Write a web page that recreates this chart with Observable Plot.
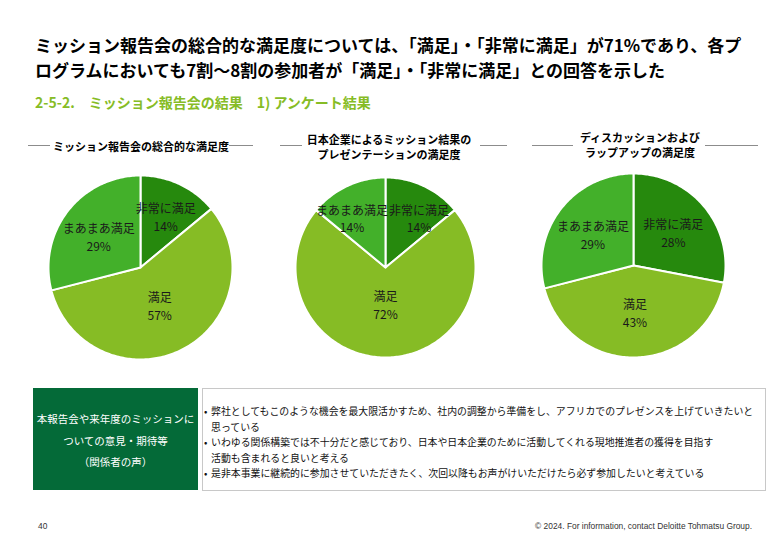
<!DOCTYPE html>
<html><head><meta charset="utf-8">
<script src="https://cdn.jsdelivr.net/npm/d3@7"></script>
<script src="https://cdn.jsdelivr.net/npm/@observablehq/plot@0.6"></script>
<style>
body{margin:0;width:780px;height:540px;position:relative;background:#fff;font-family:"Noto Sans CJK JP","Noto Sans",sans-serif;overflow:hidden;color:#000}
.abs{position:absolute;white-space:nowrap}
.title{left:35px;top:32px;font-size:17px;font-weight:700;line-height:25px}
.sub{left:35px;top:93px;font-size:14px;font-weight:600;line-height:19px;color:#86BC25}
.ctitle{font-size:11px;font-weight:600;line-height:15px;text-align:center;transform:translateX(-50%)}
.rule{height:1.5px;background:#8c8c8c}
.gbox{left:33px;top:388px;width:165px;height:102px;background:#046A38;color:#fff;font-size:10.5px;line-height:21.5px;text-align:center}
.wbox{left:202px;top:388px;width:562px;height:101px;border:1px solid #c8c8c8;background:#fff}
.items{left:211px;top:404px;font-size:9.9px;line-height:15.5px;color:#111}
.items .it{position:relative}
.items .it span.b{position:absolute;left:-7px}
.foot{font-family:"Liberation Sans",sans-serif;font-size:8.4px;color:#333;top:521px}
</style></head><body>
<script>
// ---- data ----
const categories = ["非常に満足", "満足", "まあまあ満足"];
const colors = ["#26890D", "#86BC25", "#43B02A"];
const chartTitles = [
  ["ミッション報告会の総合的な満足度"],
  ["日本企業によるミッション結果の", "プレゼンテーションの満足度"],
  ["ディスカッションおよび", "ラップアップの満足度"]
];
const values1 = [14, 57, 29];
const values2 = [14, 72, 14];
const values3 = [28, 43, 29];
const titleLines = ["ミッション報告会の総合的な満足度については、「満足」・「非常に満足」が71%であり、各プ", "ログラムにおいても7割～8割の参加者が「満足」・「非常に満足」との回答を示した"];
const subtitle = "2-5-2.　ミッション報告会の結果　1) アンケート結果";
const boxHeader = ["本報告会や来年度のミッションに", "ついての意見・期待等", "（関係者の声）"];
const comments = [
  ["弊社としてもこのような機会を最大限活かすため、社内の調整から準備をし、アフリカでのプレゼンスを上げていきたいと", "思っている"],
  ["いわゆる関係構築では不十分だと感じており、日本や日本企業のために活動してくれる現地推進者の獲得を目指す", "活動も含まれると良いと考える"],
  ["是非本事業に継続的に参加させていただきたく、次回以降もお声がけいただけたら必ず参加したいと考えている"]
];
const pageNo = "40";
const copyright = "© 2024. For information, contact Deloitte Tohmatsu Group.";

// ---- layout (positions only) ----
const layout = [
  {cx: 140, cy: 267, r: 92, tx: 141, ty: 139, rules: [[28, 50], [229, 253]]},
  {cx: 385, cy: 267, r: 90, tx: 389, ty: 132, rules: [[280, 302], [480, 507]]},
  {cx: 633, cy: 265, r: 92, tx: 640, ty: 130, rules: [[532, 573], [705, 758]]}
];
const seriesList = [values1, values2, values3];
const labelFont = 12;

function el(cls, html, style) {
  const d = document.createElement("div");
  d.className = "abs " + cls;
  d.innerHTML = html;
  Object.assign(d.style, style || {});
  document.body.appendChild(d);
  return d;
}

el("title", titleLines.join("<br>"));
el("sub", subtitle);

function pieChart(values, r) {
  const total = d3.sum(values);
  const arcs = d3.pie().sort(null).value(d => d)(values);
  const pts = [];
  arcs.forEach((a, i) => {
    const n = Math.max(2, Math.ceil((a.endAngle - a.startAngle) / (Math.PI / 180)));
    pts.push({k: i, cat: categories[i], x: 0, y: 0});
    for (let j = 0; j <= n; j++) {
      const t = a.startAngle + (a.endAngle - a.startAngle) * j / n;
      pts.push({k: i, cat: categories[i], x: Math.sin(t), y: Math.cos(t)});
    }
  });
  // label placement: small slices further out, big slices nearer the centre
  const labels = arcs.map((a, i) => {
    const m = (a.startAngle + a.endAngle) / 2;
    const f = 0.66 - 0.35 * values[i] / total;
    return {x: f * Math.sin(m), y: f * Math.cos(m), w: categories[i].length * labelFont / r, text: `${categories[i]}\n${values[i]}%`};
  });
  // resolve horizontal overlaps between labels on the same row
  for (let it = 0; it < 20; it++) {
    for (let a = 0; a < labels.length; a++) for (let b = a + 1; b < labels.length; b++) {
      const A = labels[a], B = labels[b];
      if (Math.abs(A.y - B.y) * r > labelFont * 2.6) continue;
      const need = (A.w + B.w) / 2 + 1 / r;
      const dx = B.x - A.x;
      if (Math.abs(dx) < need) {
        const push = (need - Math.abs(dx)) / 2 * (dx >= 0 ? 1 : -1);
        A.x -= push; B.x += push;
      }
    }
  }
  const size = 2 * r + 4;
  return Plot.plot({
    width: size, height: size, margin: 0, inset: 2,
    x: {domain: [-1, 1], axis: null},
    y: {domain: [-1, 1], axis: null},
    color: {domain: categories, range: colors},
    style: {fontFamily: '"Noto Sans CJK JP", sans-serif', overflow: "visible", background: "transparent"},
    marks: [
      Plot.line(pts, {x: "x", y: "y", z: "k", fill: "cat", stroke: "white", strokeWidth: 2, strokeLinejoin: "round", curve: "linear-closed"}),
      Plot.text(labels, {x: "x", y: "y", text: "text", fontSize: labelFont, lineHeight: 1.5, fill: "#1a1a1a"})
    ]
  });
}

layout.forEach((L, i) => {
  el("ctitle", chartTitles[i].join("<br>"), {left: L.tx + "px", top: L.ty + "px"});
  L.rules.forEach(([a, b]) => el("rule", "", {left: a + "px", width: (b - a) + "px", top: "144.5px"}));
  const holder = el("", "", {left: (L.cx - L.r - 2) + "px", top: (L.cy - L.r - 2) + "px"});
  holder.appendChild(pieChart(seriesList[i], L.r));
});

el("gbox", "<div style='padding-top:20px'>" + boxHeader.join("<br>") + "</div>");
el("wbox", "");
el("items", comments.map(c => `<div class="it"><span class="b">•</span>${c.join("<br>")}</div>`).join(""));
el("foot", pageNo, {left: "38px"});
el("foot", copyright, {right: "28px"});
</script>
</body></html>
